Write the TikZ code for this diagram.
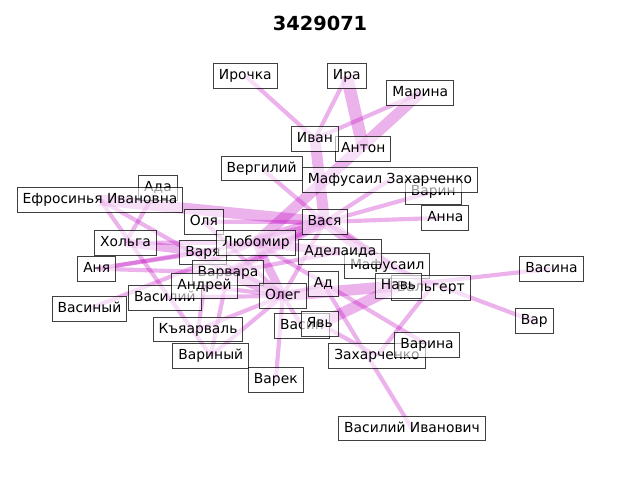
\documentclass[tikz,border=0pt]{standalone}
\usepackage{fontspec}
\setmainfont{DejaVu Sans}
\usetikzlibrary{backgrounds}
\definecolor{emag}{RGB}{191,0,191}
\newcommand\lk[3]{\draw[lnk,line width=#1pt] (#2.center) -- (#3.center);}
\begin{document}
\begin{tikzpicture}[x=0.01in,y=-0.01in,
  lbl/.style={draw=black, draw opacity=0.75, fill=white, fill opacity=0.6, text opacity=1,
    line width=0.7pt, inner xsep=4pt, inner ysep=4pt, text height=7.6pt, text depth=2.4pt,
    font=\fontsize{10}{12}\selectfont},
  lnk/.style={draw=emag, draw opacity=0.3, line cap=butt}]
\useasboundingbox (0,0) rectangle (640,480);
\node[font=\fontsize{14}{16}\selectfont\bfseries] (title) at (320,23.5) {3429071};
% labels (later ones on top)
\node[lbl] (n1) at (245.3,75.8) {Ирочка};
\node[lbl] (n2) at (346.8,75.8) {Ира};
\node[lbl] (n3) at (420.3,93) {Марина};
\node[lbl] (n5) at (363.3,148.7) {Антон};
\node[lbl] (n4) at (315,138.8) {Иван};
\node[lbl] (n6) at (261.7,168.5) {Вергилий};
\node[lbl] (n7) at (433.3,191.7) {Варин};
\node[lbl] (n8) at (390,179.8) {Мафусаил Захарченко};
\node[lbl] (n9) at (158,187.6) {Ада};
\node[lbl] (n10) at (100,200) {Ефросинья Ивановна};
\node[lbl] (n11) at (445.3,217.7) {Анна};
\node[lbl] (n12) at (203.8,221.7) {Оля};
\node[lbl] (n13) at (324.5,222) {Вася};
\node[lbl] (n14) at (125.5,242.7) {Хольга};
\node[lbl] (n15) at (203,252.5) {Варя};
\node[lbl] (n16) at (256,242.8) {Любомир};
\node[lbl] (n17) at (387.2,266.3) {Мафусаил};
\node[lbl] (n18) at (340.3,252) {Аделаида};
\node[lbl] (n19) at (96.7,268.7) {Аня};
\node[lbl] (n20) at (228,272.8) {Варвара};
\node[lbl] (n21) at (164.8,297.8) {Василий};
\node[lbl] (n22) at (204.5,285.8) {Андрей};
\node[lbl] (n23) at (323.3,284) {Ад};
\node[lbl] (n24) at (430.8,287.8) {Вальгерт};
\node[lbl] (n25) at (398.5,285.8) {Навь};
\node[lbl] (n26) at (282.8,295.8) {Олег};
\node[lbl] (n27) at (89.5,308.7) {Васиный};
\node[lbl] (n28) at (534.3,321.3) {Вар};
\node[lbl] (n29) at (551.5,268.7) {Васина};
\node[lbl] (n30) at (302,326) {Васин};
\node[lbl] (n31) at (319.8,323.8) {Явь};
\node[lbl] (n32) at (198,329.5) {Къяарваль};
\node[lbl] (n33) at (377,355.8) {Захарченко};
\node[lbl] (n34) at (427,344.7) {Варина};
\node[lbl] (n35) at (210.8,355.8) {Вариный};
\node[lbl] (n36) at (275.8,380) {Варек};
\node[lbl] (n37) at (412,428.5) {Василий Иванович};
\begin{scope}[on background layer]
\lk{3}{n1}{n4}
\lk{3}{n2}{n4}
\lk{9}{n2}{n5}
\lk{3}{n3}{n4}
\lk{8}{n3}{n16}
\lk{8}{n4}{n13}
\lk{3}{n6}{n13}
\lk{3}{n13}{n7}
\lk{3}{n13}{n11}
\lk{3}{n13}{n8}
\lk{8}{n10}{n13}
\lk{3}{n10}{n20}
\lk{3}{n10}{n35}
\lk{3}{n9}{n14}
\lk{6}{n14}{n15}
\lk{3}{n14}{n16}
\lk{3}{n19}{n15}
\lk{3}{n19}{n20}
\lk{3}{n19}{n16}
\lk{3}{n27}{n16}
\lk{3}{n21}{n26}
\lk{3}{n32}{n22}
\lk{3}{n32}{n26}
\lk{3}{n35}{n20}
\lk{3}{n35}{n26}
\lk{3}{n36}{n26}
\lk{3}{n30}{n26}
\lk{8}{n31}{n25}
\lk{3}{n33}{n31}
\lk{3}{n33}{n24}
\lk{3}{n37}{n23}
\lk{3}{n34}{n16}
\lk{3}{n29}{n25}
\lk{3}{n28}{n17}
\lk{10}{n16}{n13}
\lk{6}{n16}{n18}
\lk{6}{n16}{n26}
\lk{8}{n20}{n26}
\lk{6}{n20}{n13}
\lk{3}{n20}{n18}
\lk{8}{n26}{n25}
\lk{3}{n26}{n13}
\lk{3}{n26}{n23}
\lk{8}{n13}{n17}
\lk{3}{n13}{n24}
\lk{3}{n12}{n13}
\lk{3}{n12}{n26}
\lk{3}{n15}{n13}
\lk{3}{n15}{n26}
\lk{3}{n22}{n26}
\lk{3}{n22}{n13}
\end{scope}
\end{tikzpicture}
\end{document}
